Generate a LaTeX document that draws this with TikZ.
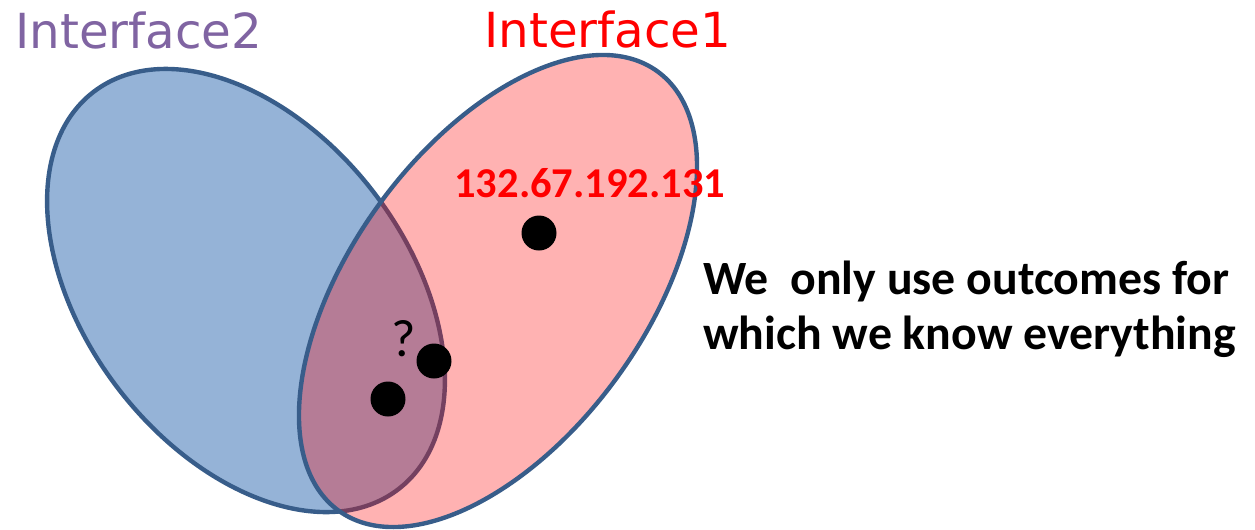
\documentclass[tikz,border=0pt]{standalone}
\usepackage{fontspec}
\setmainfont{Carlito}
\newfontfamily\handfont{DejaVu Sans}
\usetikzlibrary{calc}

\definecolor{setline}{HTML}{385D8A}
\definecolor{setblue}{HTML}{95B3D7}
\definecolor{labelpurple}{HTML}{8064A2}

\tikzset{
  dot/.style={circle,fill=black,minimum size=0.7cm,inner sep=0pt},
  setname/.style={anchor=base west,inner sep=0pt,font=\handfont\fontsize{27.5}{30}\selectfont}
}

\begin{document}
\begin{tikzpicture}[inner sep=0pt,x=0.02cm,y=-0.02cm]
\useasboundingbox (0,0) rectangle (1255,529);

% the two sets
\draw[line width=2.5pt,setline,fill=setblue] (246,290.5) ellipse [x radius=250.4,y radius=161.1,rotate=-52.5];
\draw[line width=2.5pt,setline,fill=red,fill opacity=0.3] (498,291) ellipse [x radius=271.4,y radius=147.1,rotate=54];

\node (if2) [setname,text=labelpurple] at (15,48) {Interface2};
\node (if1) [setname,text=red] at (484,47) {Interface1};

\node (addr) [anchor=base west,text=red,font=\bfseries\fontsize{24.2}{26}\selectfont] at (454,197) {132.67.192.131};
\node (dotA) [dot] at (539,233) {};
\node (dotB) [dot] at (434,361) {};
\node (dotC) [dot] at (388,399) {};
\node (qm) [font=\fontsize{30}{32}\selectfont] at (404,339) {?};

\node (lineA) [anchor=base west,font=\bfseries\fontsize{27.2}{30}\selectfont] at (703,294) {We\ \ only use outcomes for};
\node (lineB) [anchor=base west,font=\bfseries\fontsize{27.2}{30}\selectfont] at ($(lineA.base west)+(0,55)$) {which we know everything};
\end{tikzpicture}
\end{document}
